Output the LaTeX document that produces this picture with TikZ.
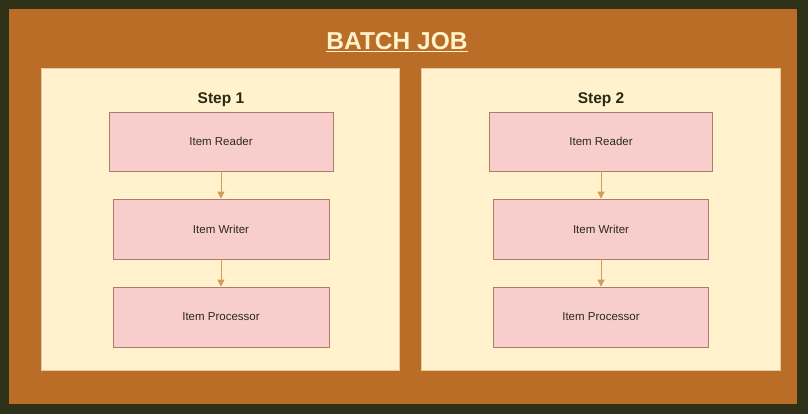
\documentclass[tikz,border=0pt]{standalone}
\usepackage{fontspec}
\setmainfont{Liberation Sans}
\usetikzlibrary{arrows.meta}
\definecolor{bgdark}{HTML}{2E3018}
\definecolor{jobor}{HTML}{B96D26}
\definecolor{stepfill}{HTML}{FFF2CC}
\definecolor{stepline}{HTML}{E8C9A0}
\definecolor{itemfill}{HTML}{F8CECC}
\definecolor{itemline}{HTML}{B07A6A}
\definecolor{arrowc}{HTML}{D39A5E}
\definecolor{txt}{HTML}{2A2A14}
\begin{document}
\begin{tikzpicture}[x=1pt,y=-1pt,
  stepbox/.style={draw=stepline,fill=stepfill,line width=0.8pt},
  itembox/.style={draw=itemline,fill=itemfill,line width=0.8pt,text=txt,font=\fontsize{11.5}{13}\selectfont},
  flow/.style={draw=arrowc,line width=0.9pt,-{Triangle[width=7pt,length=7pt]}},
  steplabel/.style={text=txt,font=\bfseries\fontsize{15.5}{18}\selectfont}]
\fill[bgdark] (0,0) rectangle (808,414);
\useasboundingbox (0,0) rectangle (808,414);
\fill[jobor] (9,9) rectangle (797,404);
\node[text=stepfill,font=\bfseries\fontsize{24.5}{28}\selectfont] (title) at (397,42) {\underline{BATCH JOB}};
% Step 1
\draw[stepbox] (41,68) rectangle (399,370);
\node[steplabel] (s1) at (221,100) {Step 1};
\node[itembox,minimum width=224pt,minimum height=59pt] (r1) at (221,141.5) {Item Reader};
\node[itembox,minimum width=216pt,minimum height=60pt] (w1) at (221,229) {Item Writer};
\node[itembox,minimum width=216pt,minimum height=60pt] (p1) at (221,317) {Item Processor};
\draw[flow] (r1) -- (w1);
\draw[flow] (w1) -- (p1);
% Step 2
\draw[stepbox] (421,68) rectangle (780,370);
\node[steplabel] (s2) at (601,100) {Step 2};
\node[itembox,minimum width=223pt,minimum height=59pt] (r2) at (601,141.5) {Item Reader};
\node[itembox,minimum width=215pt,minimum height=60pt] (w2) at (601,229) {Item Writer};
\node[itembox,minimum width=215pt,minimum height=60pt] (p2) at (601,317) {Item Processor};
\draw[flow] (r2) -- (w2);
\draw[flow] (w2) -- (p2);
\end{tikzpicture}
\end{document}
